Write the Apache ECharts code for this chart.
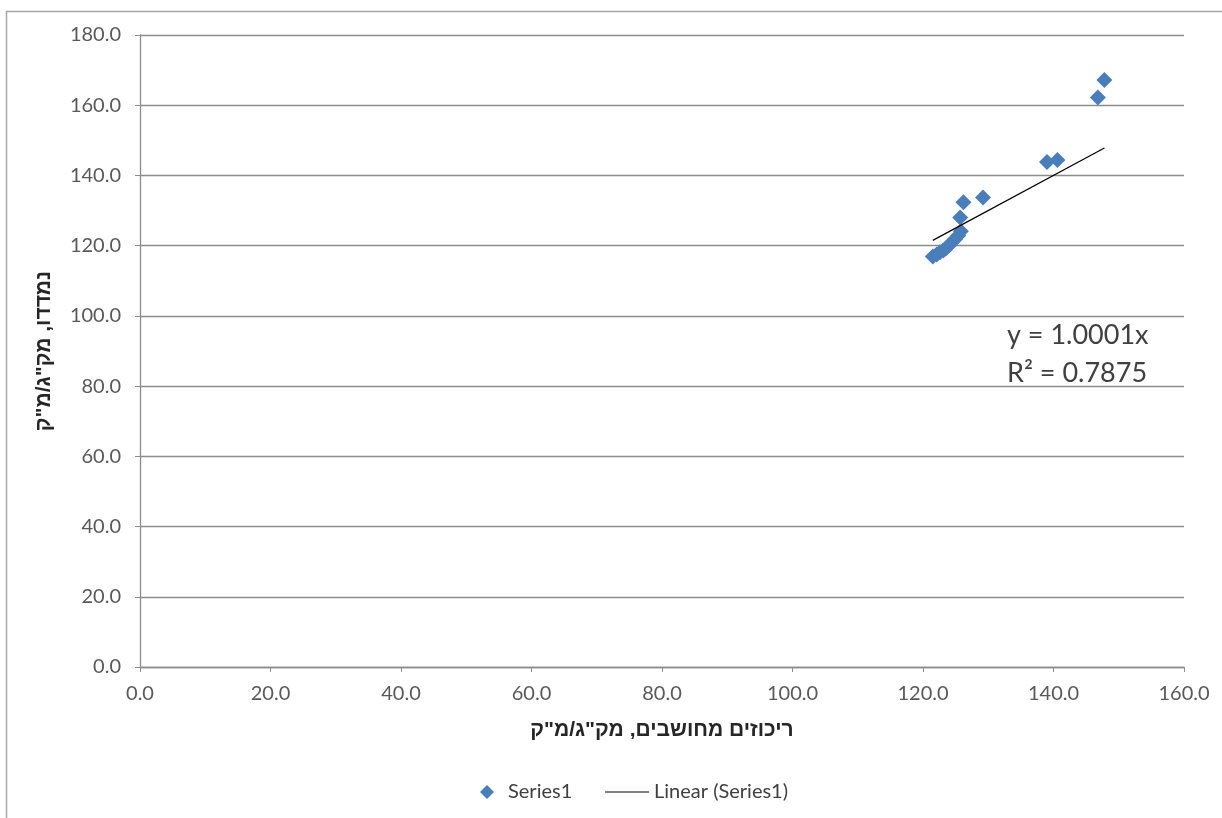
<!DOCTYPE html>
<html>
<head>
<meta charset="utf-8">
<script src="https://cdn.jsdelivr.net/npm/echarts@6/dist/echarts.min.js"></script>
<style>
html,body{margin:0;padding:0;background:#fff;}
#chart{width:1222px;height:818px;}
</style>
</head>
<body>
<div id="chart"></div>
<script>
// Data
var xValues = [121.5, 122.1, 122.6, 123.1, 123.5, 124.0, 124.4, 124.9, 125.4, 125.8, 125.7, 126.2, 129.2, 139.0, 140.6, 146.8, 147.8];
var yValues = [116.9, 117.5, 118.1, 118.6, 119.2, 120.1, 120.9, 121.8, 122.9, 124.1, 128.0, 132.4, 133.7, 143.8, 144.4, 162.2, 167.2];
var trendSlope = 1.0001;
var trendR2 = 0.7875;
var xTicks = [0, 20, 40, 60, 80, 100, 120, 140, 160];
var yTicks = [0, 20, 40, 60, 80, 100, 120, 140, 160, 180];
var seriesName = 'Series1';
var trendName = 'Linear (Series1)';
var xTitle = 'ריכוזים מחושבים, מק"ג/מ"ק';
var yTitle = 'נמדדו, מק"ג/מ"ק';

var points = xValues.map(function (x, i) { return [x, yValues[i]]; });
var xMin = Math.min.apply(null, xValues), xMax = Math.max.apply(null, xValues);
var trendPts = [[xMin, trendSlope * xMin], [xMax, trendSlope * xMax]];

var labelFont = 'Lato, "Liberation Sans", sans-serif';
var titleFont = '"Liberation Sans", "DejaVu Sans", sans-serif';
var chart = echarts.init(document.getElementById('chart'));
chart.setOption({
  animation: false,
  backgroundColor: '#ffffff',
  grid: { left: 140, right: 38, top: 35, bottom: 151 },
  xAxis: {
    type: 'value', min: xTicks[0], max: xTicks[xTicks.length - 1], interval: xTicks[1] - xTicks[0],
    name: xTitle, nameLocation: 'middle', nameGap: 53,
    nameTextStyle: { fontFamily: titleFont, fontWeight: 'bold', fontSize: 21, color: '#262626' },
    axisLine: { show: true, lineStyle: { color: '#8c8c8c', width: 1.3 } },
    axisTick: { show: true, length: 5, lineStyle: { color: '#8c8c8c' } },
    axisLabel: { margin: 17, fontFamily: labelFont, fontSize: 20, color: '#595959', formatter: function (v) { return v.toFixed(1); } },
    splitLine: { show: false }
  },
  yAxis: {
    type: 'value', min: yTicks[0], max: yTicks[yTicks.length - 1], interval: yTicks[1] - yTicks[0],
    name: yTitle, nameLocation: 'middle', nameGap: 85, nameRotate: 90,
    nameTextStyle: { fontFamily: titleFont, fontWeight: 'bold', fontSize: 21, color: '#262626' },
    axisLine: { show: true, lineStyle: { color: '#8c8c8c', width: 1.3 } },
    axisTick: { show: true, length: 5, lineStyle: { color: '#8c8c8c' } },
    axisLabel: { margin: 19, fontFamily: labelFont, fontSize: 20, color: '#595959', formatter: function (v) { return v.toFixed(1); } },
    splitLine: { show: true, lineStyle: { color: '#8c8c8c', width: 1.3 } }
  },
  legend: [
    { data: [{ name: seriesName, icon: 'diamond' }], left: 475, top: 777, itemWidth: 14, itemHeight: 14, itemGap: 8,
      itemStyle: { opacity: 1 },
      textStyle: { fontFamily: labelFont, fontSize: 20, color: '#404040', padding: [0, 0, 0, 9] } },
    { data: [{ name: trendName, icon: 'rect' }], left: 600, top: 777, itemWidth: 44, itemHeight: 1.2, itemGap: 3,
      textStyle: { fontFamily: labelFont, fontSize: 20, color: '#404040' } }
  ],
  series: [
    { name: seriesName, type: 'scatter', symbol: 'diamond', symbolSize: 16, data: points, z: 3,
      itemStyle: { color: '#4a7ebb', opacity: 1 } },
    { name: trendName, type: 'line', data: trendPts, showSymbol: false, symbol: 'none', z: 4,
      lineStyle: { color: '#000000', width: 1.2 }, itemStyle: { color: '#000000' } }
  ],
  graphic: [
    { type: 'rect', shape: { x: 6.5, y: 11.5, width: 1300, height: 900 }, style: { fill: 'none', stroke: '#a6a6a6', lineWidth: 1.5 }, silent: true },
    { type: 'text', left: 1007, top: 322, style: { text: 'y = ' + trendSlope.toFixed(4) + 'x', font: '27px Lato, sans-serif', fill: '#404040' } },
    { type: 'text', left: 1007, top: 360, style: { text: 'R² = ' + trendR2.toFixed(4), font: '27px Lato, sans-serif', fill: '#404040' } }
  ]
});
</script>
</body>
</html>
